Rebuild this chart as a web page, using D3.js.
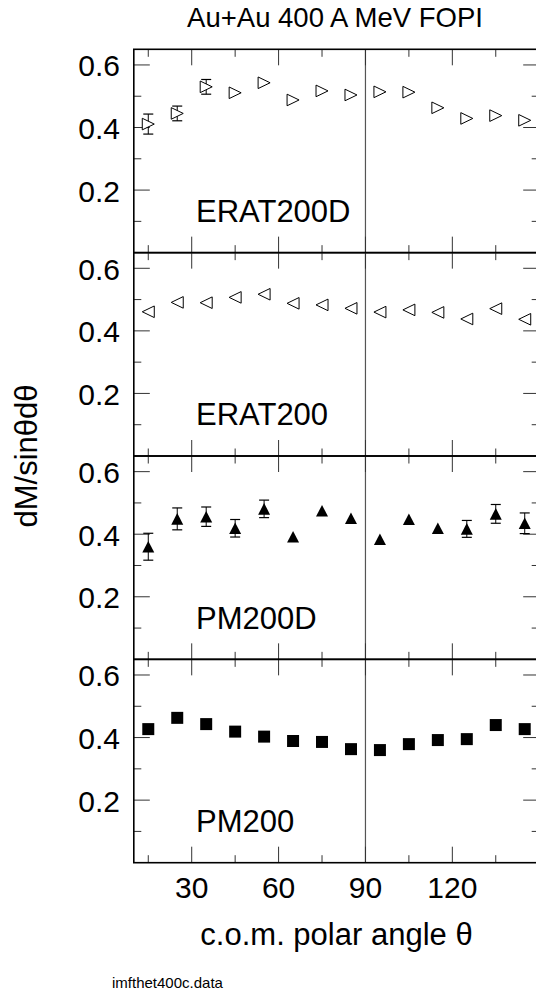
<!DOCTYPE html>
<html>
<head>
<meta charset="utf-8">
<script src="https://cdn.jsdelivr.net/npm/d3@7"></script>
<style>
  html, body { margin: 0; padding: 0; background: #fff; }
  svg { display: block; font-family: "Liberation Sans", Arial, sans-serif; }
</style>
</head>
<body>
<svg id="chart" width="536" height="994"></svg>
<script>
// ---- data ----
const angles = [15, 25, 35, 45, 55, 65, 75, 85, 95, 105, 115, 125, 135, 145];

const panelNames = ["ERAT200D", "ERAT200", "PM200D", "PM200"];
const markerTypes = ["openRight", "openLeft", "filledUp", "filledSquare"];

const erat200d    = [0.411, 0.445, 0.530, 0.511, 0.543, 0.488, 0.517, 0.504, 0.514, 0.513, 0.463, 0.429, 0.438, 0.423];
const erat200dErr = [0.032, 0.0235, 0.0235, 0, 0, 0, 0, 0, 0, 0, 0, 0, 0, 0];

const erat200     = [0.461, 0.491, 0.490, 0.507, 0.517, 0.488, 0.483, 0.472, 0.460, 0.467, 0.459, 0.438, 0.471, 0.437];
const erat200Err  = [0, 0, 0, 0, 0, 0, 0, 0, 0, 0, 0, 0, 0, 0];

const pm200d      = [0.360, 0.449, 0.456, 0.419, 0.481, 0.392, 0.475, 0.451, 0.384, 0.448, 0.419, 0.417, 0.465, 0.435];
const pm200dErr   = [0.043, 0.035, 0.031, 0.028, 0.028, 0, 0, 0, 0, 0, 0, 0.027, 0.030, 0.033];

const pm200       = [0.427, 0.463, 0.443, 0.419, 0.403, 0.389, 0.386, 0.363, 0.360, 0.379, 0.392, 0.395, 0.440, 0.427];
const pm200Err    = [0, 0, 0, 0, 0, 0, 0, 0, 0, 0, 0, 0, 0, 0];

const seriesValues = [erat200d, erat200, pm200d, pm200];
const seriesErrors = [erat200dErr, erat200Err, pm200dErr, pm200Err];

const xMajorTicks = [30, 60, 90, 120];
const xMinorTicks = [15, 45, 75, 105, 135];
const yMajorTicks = [0.2, 0.4, 0.6];
const yMinorTicks = [0.1, 0.3, 0.5];
const xTickLabels = ["30", "60", "90", "120"];
const yTickLabels = ["0.2", "0.4", "0.6"];

const titleText = "Au+Au 400 A MeV FOPI";
const xTitle = "c.o.m. polar angle \u03B8";
const yTitle = "dM/sin\u03B8d\u03B8";
const footer = "imfthet400c.data";

// ---- layout ----
const svg = d3.select("#chart");
const plotLeft = 133.8, plotRight = 539.2;
const plotTop = 49.3, panelH = 203.35;
const nPanels = panelNames.length;

const x = d3.scaleLinear().domain([10, 150]).range([plotLeft, plotRight]);
const yDomain = [0, 0.65];

const majorLen = 16, minorLen = 7.5;
const tickColor = "#333";

function markerPath(type, cx, cy) {
  const h = 5.8, w = 6;
  switch (type) {
    case "openRight":
      return `M${cx - w},${cy - h}L${cx + w},${cy}L${cx - w},${cy + h}Z`;
    case "openLeft":
      return `M${cx + w},${cy - h}L${cx - w},${cy}L${cx + w},${cy + h}Z`;
    case "filledUp":
      return `M${cx - w},${cy + h}L${cx + w},${cy + h}L${cx},${cy - h}Z`;
    default:
      return `M${cx - 6},${cy - 6}h12v12h-12Z`;
  }
}

for (let p = 0; p < nPanels; p++) {
  const top = plotTop + p * panelH;
  const bottom = top + panelH;
  const y = d3.scaleLinear().domain(yDomain).range([bottom, top]);
  const g = svg.append("g");

  // vertical line at 90
  g.append("line")
    .attr("x1", x(90)).attr("x2", x(90))
    .attr("y1", top).attr("y2", bottom)
    .attr("stroke", "#555").attr("stroke-width", 1.2);

  // x ticks top & bottom
  const xt = xMajorTicks.map(v => ({v, len: majorLen})).concat(xMinorTicks.map(v => ({v, len: minorLen})));
  xt.forEach(t => {
    g.append("line").attr("x1", x(t.v)).attr("x2", x(t.v))
      .attr("y1", top).attr("y2", top + t.len)
      .attr("stroke", tickColor).attr("stroke-width", 1);
    g.append("line").attr("x1", x(t.v)).attr("x2", x(t.v))
      .attr("y1", bottom).attr("y2", bottom - t.len)
      .attr("stroke", tickColor).attr("stroke-width", 1);
  });

  // y ticks left & right
  const yt = yMajorTicks.map(v => ({v, len: majorLen})).concat(yMinorTicks.map(v => ({v, len: minorLen})));
  yt.forEach(t => {
    g.append("line").attr("x1", plotLeft).attr("x2", plotLeft + t.len)
      .attr("y1", y(t.v)).attr("y2", y(t.v))
      .attr("stroke", tickColor).attr("stroke-width", 1);
    g.append("line").attr("x1", plotRight).attr("x2", plotRight - t.len)
      .attr("y1", y(t.v)).attr("y2", y(t.v))
      .attr("stroke", tickColor).attr("stroke-width", 1);
  });

  // y tick labels
  yMajorTicks.forEach((v, i) => {
    g.append("text").attr("x", 120).attr("y", y(v) + 11.5)
      .attr("text-anchor", "end").attr("font-size", 30).attr("fill", "#000")
      .text(yTickLabels[i]);
  });

  // frame
  g.append("rect").attr("x", plotLeft).attr("y", top)
    .attr("width", plotRight - plotLeft).attr("height", panelH)
    .attr("fill", "none").attr("stroke", "#000").attr("stroke-width", 1.6);

  // panel label
  g.append("text").attr("x", 196).attr("y", top + 172.5)
    .attr("font-size", 31).attr("fill", "#000").text(panelNames[p]);

  // data
  const vals = seriesValues[p], errs = seriesErrors[p];
  const type = markerTypes[p];
  const filled = type.startsWith("filled");
  angles.forEach((a, i) => {
    const cx = x(a), cy = y(vals[i]);
    if (errs[i] > 0) {
      const y1 = y(vals[i] + errs[i]), y2 = y(vals[i] - errs[i]);
      g.append("line").attr("x1", cx).attr("x2", cx).attr("y1", y1).attr("y2", y2)
        .attr("stroke", "#000").attr("stroke-width", 1);
      [y1, y2].forEach(yy => g.append("line").attr("x1", cx - 5).attr("x2", cx + 5)
        .attr("y1", yy).attr("y2", yy).attr("stroke", "#000").attr("stroke-width", 1.2));
    }
    g.append("path").attr("d", markerPath(type, cx, cy))
      .attr("fill", filled ? "#000" : "#fff")
      .attr("stroke", filled ? "none" : "#000")
      .attr("stroke-width", 1);
  });

  // x tick labels on bottom panel
  if (p === nPanels - 1) {
    xMajorTicks.forEach((v, i) => {
      svg.append("text").attr("x", x(v)).attr("y", bottom + 35.5)
        .attr("text-anchor", "middle").attr("font-size", 30).attr("fill", "#000")
        .text(xTickLabels[i]);
    });
  }
}

// titles
svg.append("text").attr("x", 335).attr("y", 26.5).attr("text-anchor", "middle")
  .attr("font-size", 27.5).attr("fill", "#000").text(titleText);
svg.append("text").attr("x", 336.5).attr("y", 945).attr("text-anchor", "middle")
  .attr("font-size", 31).attr("fill", "#000").text(xTitle);
svg.append("text").attr("transform", "translate(37,456) rotate(-90)")
  .attr("text-anchor", "middle").attr("font-size", 31).attr("fill", "#000").text(yTitle);
svg.append("text").attr("x", 112).attr("y", 987.5)
  .attr("font-size", 15).attr("fill", "#000").text(footer);
</script>
</body>
</html>
